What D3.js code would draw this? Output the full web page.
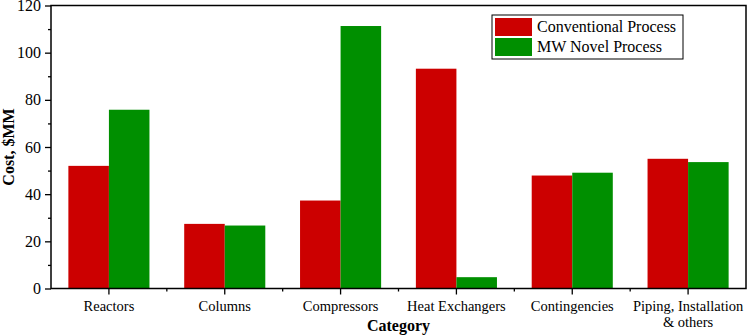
<!DOCTYPE html>
<html><head><meta charset="utf-8">
<script src="https://cdn.jsdelivr.net/npm/d3@7"></script>
<style>body{margin:0;background:#fff;} svg{display:block;} svg text{font-family:"Liberation Serif","Times New Roman",serif;}</style>
</head><body>
<svg id="chart" width="750" height="335"></svg>
<script>
const categories = ["Reactors","Columns","Compressors","Heat Exchangers","Contingencies","Piping, Installation\n& others"];
const seriesNames = ["Conventional Process","MW Novel Process"];
const conventional = [52.0, 27.4, 37.3, 93.2, 47.9, 55.0];
const mwNovel = [75.8, 26.7, 111.3, 4.8, 49.1, 53.6];
const yTicks = [0,20,40,60,80,100,120];
const yMinorTicks = [10,30,50,70,90,110];
const colors = ["#cc0000","#008f00"];

const svg = d3.select("#chart");
const m = {l:51, r:4, t:5.5, b:46.5};
const W = 750, H = 335;
const x0 = m.l, x1 = W - m.r, y0 = H - m.b, y1 = m.t;
const font = '"Liberation Serif","Times New Roman",serif';

const x = d3.scaleBand().domain(categories).range([x0, x1]).paddingInner(0.3).paddingOuter(0.15);
const xb = d3.scaleBand().domain(categories).range([x0, x1]);
const y = d3.scaleLinear().domain([0,120]).range([y0, y1]);
const xs = d3.scaleBand().domain([0,1]).range([0, x.bandwidth()]);

const data = categories.map((c,i)=>({c, v:[conventional[i], mwNovel[i]]}));
const g = svg.append("g");
g.selectAll("g.grp").data(data).join("g").attr("class","grp")
 .attr("transform", d=>`translate(${x(d.c)},0)`)
 .selectAll("rect").data(d=>d.v.map((v,j)=>({v,j}))).join("rect")
 .attr("x", d=>xs(d.j)).attr("width", xs.bandwidth())
 .attr("y", d=>y(d.v)).attr("height", d=>y(0)-y(d.v))
 .attr("fill", d=>colors[d.j]);

// frame
svg.append("rect").attr("x",x0).attr("y",y1).attr("width",x1-x0).attr("height",y0-y1)
 .attr("fill","none").attr("stroke","#000").attr("stroke-width",1.5);

// Y axis
const yAxis = d3.axisLeft(y).tickValues(yTicks).tickSize(6).tickPadding(4);
const ya = svg.append("g").attr("transform",`translate(${x0},0)`).call(yAxis);
ya.attr("font-family",null);
ya.select(".domain").remove();
ya.selectAll("line").attr("stroke","#000").attr("stroke-width",1.3);
ya.selectAll("text").style("font-family",font).style("font-size","16px").attr("fill","#000");
const yMin = d3.axisLeft(y).tickValues(yMinorTicks).tickSize(3).tickFormat("");
const ym = svg.append("g").attr("transform",`translate(${x0},0)`).call(yMin);
ym.select(".domain").remove();
ym.selectAll("line").attr("stroke","#000").attr("stroke-width",1.3);

// X axis
const xAxis = d3.axisBottom(xb).tickSize(6).tickPadding(6).tickFormat("");
const xa = svg.append("g").attr("transform",`translate(0,${y0})`).call(xAxis);
xa.attr("font-family",null);
xa.select(".domain").remove();
xa.selectAll("line").attr("stroke","#000").attr("stroke-width",1.3);
const xMinorVals = categories.slice(1).map(c=>xb(c));
svg.append("g").selectAll("line").data(xMinorVals).join("line")
 .attr("x1",d=>d).attr("x2",d=>d).attr("y1",y0).attr("y2",y0+3)
 .attr("stroke","#000").attr("stroke-width",1.3);
xa.selectAll(".tick").each(function(d){
  const t = d3.select(this).append("text").attr("fill","#000")
   .style("font-family",font).style("font-size","14.5px").attr("text-anchor","middle")
   .attr("y", 22);
  d.split("\n").forEach((s,i)=>t.append("tspan").attr("x",0).attr("dy", i===0?0:"1.15em").text(s));
});

// axis titles
svg.append("text").attr("x",(x0+x1)/2).attr("y",331).attr("text-anchor","middle")
 .style("font-family",font).attr("font-weight","bold").style("font-size","16px").text("Category");
svg.append("text").attr("transform",`translate(14,${(y0+y1)/2}) rotate(-90)`).attr("text-anchor","middle")
 .style("font-family",font).attr("font-weight","bold").style("font-size","16px").text("Cost, $MM");

// legend
const lg = svg.append("g").attr("transform","translate(492,15)");
lg.append("rect").attr("width",191).attr("height",44).attr("fill","#fff").attr("stroke","#000").attr("stroke-width",1);
seriesNames.forEach((s,i)=>{
  lg.append("rect").attr("x",3).attr("y",3+i*20).attr("width",37).attr("height",18).attr("fill",colors[i]);
  lg.append("text").attr("x",45).attr("y",17+i*20).style("font-family",font).style("font-size","16px").text(s);
});
</script>
</body></html>
